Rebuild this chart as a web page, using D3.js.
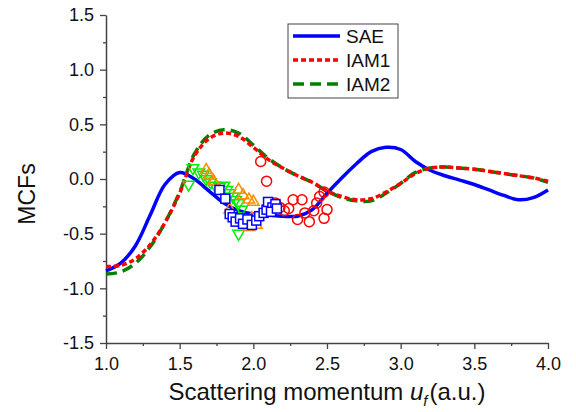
<!DOCTYPE html>
<html>
<head>
<meta charset="utf-8">
<script src="https://cdn.jsdelivr.net/npm/d3@7"></script>
<style>
  body { margin: 0; background: #fff; }
  svg { font-family: "Liberation Sans", Arial, sans-serif; }
</style>
</head>
<body>
<div id="chart"></div>
<script>
// momentum grid for the theory curves
var uGrid = [1.0, 1.1, 1.2, 1.3, 1.4, 1.5, 1.6, 1.7, 1.8, 1.9, 2.0, 2.1, 2.2, 2.3, 2.4, 2.5,
             2.6, 2.7, 2.8, 2.9, 3.0, 3.1, 3.2, 3.3, 3.4, 3.5, 3.6, 3.7, 3.8, 3.9, 4.0];
var sae  = [-0.84, -0.77, -0.61, -0.33, -0.05, 0.06, 0.00, -0.11, -0.22, -0.29, -0.32, -0.33, -0.34, -0.34, -0.28, -0.13,
             0.01, 0.14, 0.25, 0.29, 0.27, 0.16, 0.08, 0.03, -0.01, -0.05, -0.10, -0.15, -0.19, -0.17, -0.10];
var iam1 = [-0.80, -0.79, -0.73, -0.60, -0.40, -0.13, 0.21, 0.37, 0.42, 0.39, 0.29, 0.18, 0.10, 0.03, -0.03, -0.11,
            -0.16, -0.19, -0.18, -0.12, -0.04, 0.05, 0.10, 0.11, 0.10, 0.09, 0.07, 0.05, 0.03, 0.01, -0.02];
var iam2 = [-0.87, -0.85, -0.77, -0.62, -0.40, -0.12, 0.23, 0.40, 0.45, 0.42, 0.31, 0.19, 0.10, 0.03, -0.03, -0.11,
            -0.17, -0.20, -0.20, -0.13, -0.04, 0.06, 0.10, 0.11, 0.10, 0.09, 0.07, 0.05, 0.03, 0.01, -0.03];

// experimental points [u, MCF]
var downTri = [[1.56,-0.05],[1.59,0.10],[1.63,0.06],[1.66,0.04],[1.68,0.00],[1.71,-0.03],[1.74,-0.06],[1.77,-0.07],
               [1.80,-0.06],[1.82,-0.10],[1.84,-0.13],[1.86,-0.16],[1.88,-0.19],[1.90,-0.22],[1.92,-0.28],[1.88,-0.34],[1.90,-0.50]];
var upTri   = [[1.68,0.08],[1.70,0.04],[1.73,-0.02],[1.90,-0.10],[1.93,-0.15],[1.97,-0.19],[2.00,-0.21],[1.84,-0.28],
               [1.93,-0.40],[1.97,-0.44],[2.02,-0.42],[1.99,-0.36]];
var circles = [[2.05,0.16],[2.09,-0.02],[2.15,-0.22],[2.18,-0.26],[2.21,-0.29],[2.24,-0.27],[2.27,-0.19],[2.33,-0.19],
               [2.30,-0.37],[2.35,-0.31],[2.38,-0.39],[2.41,-0.29],[2.43,-0.22],[2.45,-0.16],[2.48,-0.12],[2.48,-0.36],[2.50,-0.28]];
var squares = [[1.77,-0.10],[1.81,-0.18],[1.84,-0.32],[1.86,-0.35],[1.88,-0.39],[1.91,-0.36],[1.93,-0.41],[1.96,-0.37],
               [1.99,-0.42],[2.02,-0.38],[2.04,-0.34],[2.07,-0.31],[2.09,-0.28],[2.10,-0.21],[2.13,-0.26],[2.15,-0.23],[2.12,-0.30],[2.16,-0.27]];

var xTicks = [1.0, 1.5, 2.0, 2.5, 3.0, 3.5, 4.0];
var yTicks = [-1.5, -1.0, -0.5, 0.0, 0.5, 1.0, 1.5];
var legendNames = ['SAE', 'IAM1', 'IAM2'];

var width = 576, height = 412;
var margin = {top: 15, right: 28, bottom: 69, left: 106};

var svg = d3.select('#chart').append('svg').attr('width', width).attr('height', height);

var x = d3.scaleLinear().domain([1, 4]).range([margin.left, width - margin.right]);
var y = d3.scaleLinear().domain([-1.5, 1.5]).range([height - margin.bottom, margin.top]);

var axisColor = '#444';
var fmt = function (d) { return d.toFixed(1); };

// minor ticks
svg.append('g')
   .attr('transform', 'translate(0,' + (height - margin.bottom) + ')')
   .call(d3.axisBottom(x).tickValues(d3.range(1.25, 4, 0.5)).tickSize(3).tickFormat(''))
   .call(function (g) { g.select('.domain').remove(); });
svg.append('g')
   .attr('transform', 'translate(' + margin.left + ',0)')
   .call(d3.axisLeft(y).tickValues(d3.range(-1.25, 1.5, 0.5)).tickSize(3).tickFormat(''))
   .call(function (g) { g.select('.domain').remove(); });

var xAxis = svg.append('g')
   .attr('transform', 'translate(0,' + (height - margin.bottom) + ')')
   .call(d3.axisBottom(x).tickValues(xTicks).tickSize(6).tickSizeOuter(0).tickFormat(fmt).tickPadding(8));
var yAxis = svg.append('g')
   .attr('transform', 'translate(' + margin.left + ',0)')
   .call(d3.axisLeft(y).tickValues(yTicks).tickSize(6).tickSizeOuter(0).tickFormat(fmt).tickPadding(6));

svg.selectAll('.tick line').attr('stroke', axisColor).attr('stroke-width', 1.3);
svg.selectAll('.domain').attr('stroke', axisColor).attr('stroke-width', 1.5);
svg.selectAll('.tick text').attr('fill', '#111').style('font-size', '18px');

// axis titles
var xt = svg.append('text')
   .attr('x', (margin.left + width - margin.right) / 2)
   .attr('y', 400)
   .attr('text-anchor', 'middle')
   .style('font-size', '24px')
   .attr('fill', '#111');
xt.append('tspan').text('Scattering momentum ');
xt.append('tspan').attr('font-style', 'italic').text('u');
xt.append('tspan').attr('font-style', 'italic').attr('font-size', '15px').attr('dy', 6).text('f');
xt.append('tspan').attr('dy', -6).attr('dx', 2).text('(a.u.)');

svg.append('text')
   .attr('transform', 'translate(35,194) rotate(-90)')
   .attr('text-anchor', 'middle')
   .style('font-size', '23px')
   .attr('fill', '#111')
   .text('MCFs');

// theory curves
function curve(vals) {
  return d3.line()
    .x(function (d, i) { return x(uGrid[i]); })
    .y(function (d) { return y(d); })
    .curve(d3.curveCatmullRom.alpha(0.5))(vals);
}

svg.append('path').attr('d', curve(sae)).attr('fill', 'none')
   .attr('stroke', '#0000ff').attr('stroke-width', 3.5);
svg.append('path').attr('d', curve(iam2)).attr('fill', 'none')
   .attr('stroke', '#008000').attr('stroke-width', 3.5).attr('stroke-dasharray', '11,6');
svg.append('path').attr('d', curve(iam1)).attr('fill', 'none')
   .attr('stroke', '#ff0000').attr('stroke-width', 3.5).attr('stroke-dasharray', '5,3');

// experimental markers
var tri = d3.symbol().type(d3.symbolTriangle).size(58);
svg.append('g').selectAll('path').data(downTri).enter().append('path')
   .attr('d', tri)
   .attr('transform', function (d) { return 'translate(' + x(d[0]) + ',' + y(d[1]) + ') rotate(180)'; })
   .attr('fill', 'none').attr('stroke', '#00ee00').attr('stroke-width', 1.5);

svg.append('g').selectAll('path').data(upTri).enter().append('path')
   .attr('d', tri)
   .attr('transform', function (d) { return 'translate(' + x(d[0]) + ',' + y(d[1]) + ')'; })
   .attr('fill', 'none').attr('stroke', '#ff8c00').attr('stroke-width', 1.5);

svg.append('g').selectAll('circle').data(circles).enter().append('circle')
   .attr('cx', function (d) { return x(d[0]); })
   .attr('cy', function (d) { return y(d[1]); })
   .attr('r', 5)
   .attr('fill', 'none').attr('stroke', '#ff0000').attr('stroke-width', 1.5);

svg.append('g').selectAll('rect').data(squares).enter().append('rect')
   .attr('x', function (d) { return x(d[0]) - 4.5; })
   .attr('y', function (d) { return y(d[1]) - 4.5; })
   .attr('width', 9).attr('height', 9)
   .attr('fill', '#fff').attr('stroke', '#0000ff').attr('stroke-width', 1.5);

// legend
var lg = svg.append('g').attr('transform', 'translate(288,24)');
lg.append('rect').attr('width', 110).attr('height', 74)
  .attr('fill', '#fff').attr('stroke', '#444').attr('stroke-width', 1);
var legendStyles = [
  {color: '#0000ff', dash: null},
  {color: '#ff0000', dash: '5,3'},
  {color: '#008000', dash: '11,6'}
];
legendNames.forEach(function (name, i) {
  var yy = 12 + i * 24;
  lg.append('line').attr('x1', 5).attr('x2', 52).attr('y1', yy).attr('y2', yy)
    .attr('stroke', legendStyles[i].color).attr('stroke-width', 3.5)
    .attr('stroke-dasharray', legendStyles[i].dash);
  lg.append('text').attr('x', 58).attr('y', yy + 6.5)
    .style('font-size', '19px').attr('fill', '#111').text(name);
});
</script>
</body>
</html>
